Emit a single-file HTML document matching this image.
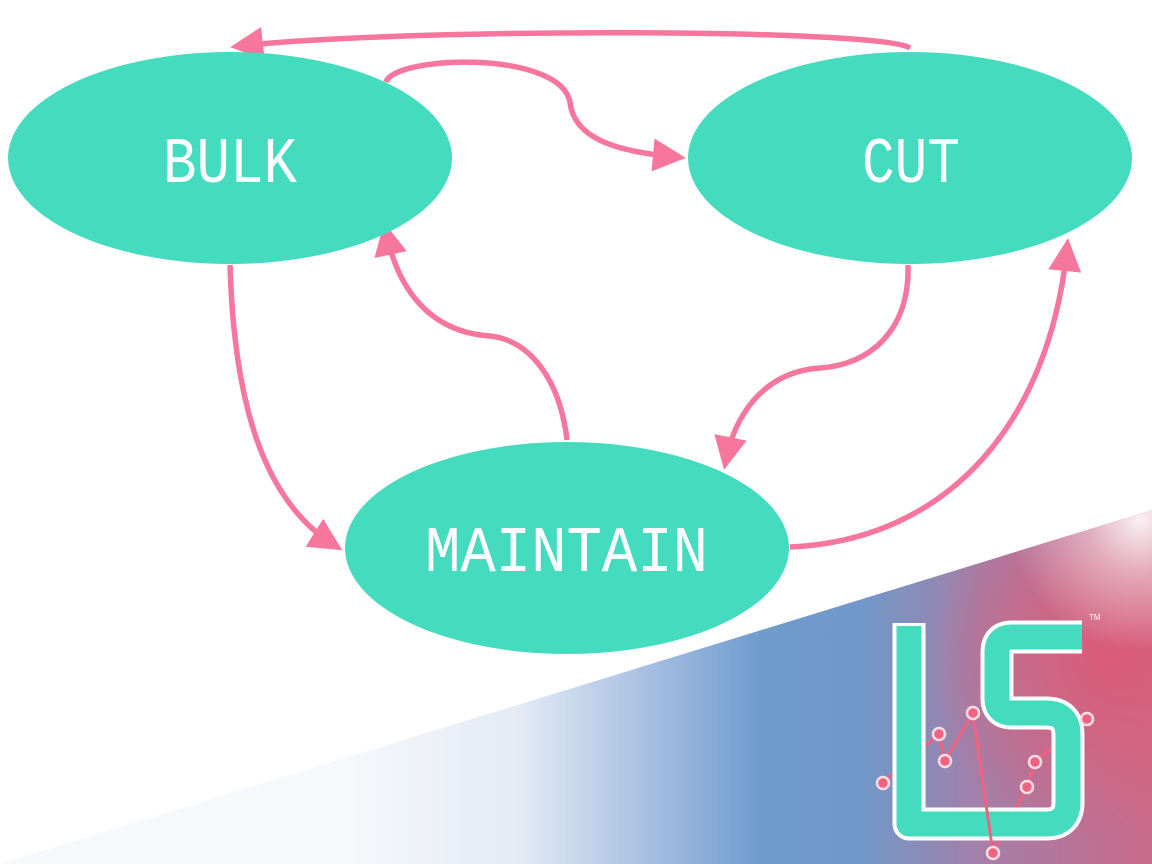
<!DOCTYPE html>
<html><head><style>html,body{margin:0;padding:0;background:#fff;}svg{display:block}</style></head>
<body>
<svg width="1152" height="864" viewBox="0 0 1152 864" xmlns="http://www.w3.org/2000/svg">
<defs>
<linearGradient id="bg" x1="0" y1="0" x2="1" y2="0">
<stop offset="0.3" stop-color="#f6f8fb"/>
<stop offset="0.45" stop-color="#e3ebf5"/>
<stop offset="0.58" stop-color="#9db8de"/>
<stop offset="0.66" stop-color="#6e9ccd"/>
<stop offset="0.75" stop-color="#7198c8"/>
<stop offset="0.85" stop-color="#a47fa8"/>
<stop offset="1" stop-color="#c96a8a"/>
</linearGradient>
<radialGradient id="red" cx="1110" cy="660" r="180" gradientUnits="userSpaceOnUse">
<stop offset="0" stop-color="#dc5a78" stop-opacity="0.95"/>
<stop offset="0.6" stop-color="#d8607c" stop-opacity="0.5"/>
<stop offset="1" stop-color="#d8607c" stop-opacity="0"/>
</radialGradient>
<radialGradient id="glow" cx="1140" cy="520" r="130" gradientUnits="userSpaceOnUse">
<stop offset="0" stop-color="#ffffff" stop-opacity="0.9"/>
<stop offset="0.4" stop-color="#ffffff" stop-opacity="0.45"/>
<stop offset="1" stop-color="#ffffff" stop-opacity="0"/>
</radialGradient>
<clipPath id="tri"><polygon points="0,864 1152,510 1152,864"/></clipPath>
<marker id="ah" markerWidth="6" markerHeight="6" refX="4.2" refY="3" orient="auto" markerUnits="strokeWidth">
<path d="M0,0 L6,3 L0,6 z" fill="#f7769e"/>
</marker>
</defs>
<g clip-path="url(#tri)">
<rect x="0" y="500" width="1152" height="364" fill="url(#bg)"/>
<rect x="800" y="480" width="352" height="384" fill="url(#red)"/>
<rect x="900" y="380" width="252" height="300" fill="url(#glow)"/>
</g>

<g fill="none" stroke="#f7769e" stroke-width="5.5">
<path d="M910,48 C880,28 400,28 240,46" marker-end="url(#ah)"/>
<path d="M386,82 C395,55 560,50 570,102 C574,140 620,152 676,157" marker-end="url(#ah)"/>
<path d="M230,265 C234,400 262,500 334,545" marker-end="url(#ah)"/>
<path d="M567,440 C560,380 530,340 490,336 C430,332 398,290 386,232" marker-end="url(#ah)"/>
<path d="M908,265 C910,330 870,365 820,368 C760,372 734,420 726,460" marker-end="url(#ah)"/>
<path d="M790,547 C950,540 1050,420 1067,248" marker-end="url(#ah)"/>
</g>

<ellipse cx="230" cy="158" rx="222" ry="106" fill="#44dbbe"/>
<ellipse cx="910" cy="158" rx="222" ry="106" fill="#44dbbe"/>
<ellipse cx="567" cy="548" rx="222" ry="106" fill="#44dbbe"/>

<g fill="#fff" font-family="Liberation Mono, DejaVu Sans Mono, monospace" font-size="42">
<text transform="translate(163,182) scale(1,1.55)" textLength="134" lengthAdjust="spacingAndGlyphs">BULK</text>
<text transform="translate(862,182) scale(1,1.55)" textLength="98" lengthAdjust="spacingAndGlyphs">CUT</text>
<text transform="translate(425,571) scale(1,1.55)" textLength="283" lengthAdjust="spacingAndGlyphs">MAINTAIN</text>
</g>

<g stroke="#f0627f" stroke-width="3" fill="none">
<polyline points="883,783 939,734 945,761 973,713"/>
<polyline points="993,853 1027,787 1035,762 1087,719"/>
</g>
<path d="M1082,637 H1012 Q997,637 997,652 V698 Q997,713 1012,713 H1046 Q1068,713 1068,735 V802 Q1068,824 1046,824 H909 V623" fill="none" stroke="#fff" stroke-width="33" stroke-linejoin="round"/>
<path d="M1082,637 H1012 Q997,637 997,652 V698 Q997,713 1012,713 H1046 Q1068,713 1068,735 V802 Q1068,824 1046,824 H909 V626" fill="none" stroke="#44dbbe" stroke-width="25" stroke-linejoin="round"/>
<line x1="973" y1="713" x2="993" y2="853" stroke="#f0627f" stroke-width="3"/>
<g fill="#f0627f" stroke="#f6dce4" stroke-width="2.5">
<circle cx="883" cy="783" r="6"/><circle cx="939" cy="734" r="6"/><circle cx="945" cy="761" r="6"/><circle cx="973" cy="713" r="6"/>
<circle cx="993" cy="853" r="6"/><circle cx="1027" cy="787" r="6"/><circle cx="1035" cy="762" r="6"/><circle cx="1087" cy="719" r="6"/>
</g>
<text x="1089" y="620" font-family="Liberation Sans, sans-serif" font-size="8" fill="#fff">TM</text>
</svg>
</body></html>
